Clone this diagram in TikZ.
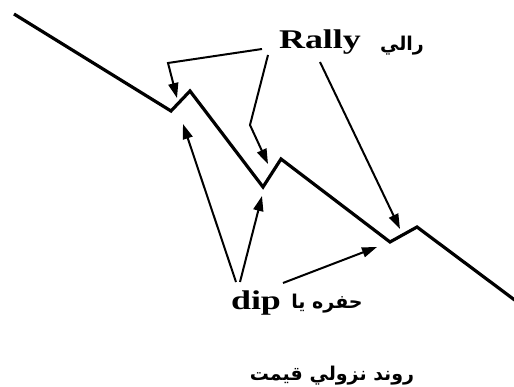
\documentclass[tikz,border=0pt]{standalone}
\usepackage{fontspec}
\setmainfont{Liberation Serif}
\newfontfamily\arabicfont[Script=Arabic]{DejaVu Sans}
\TeXXeTstate=1
\usetikzlibrary{arrows.meta}

\tikzset{
  price/.style={line width=3.2pt, line join=miter},
  pointer/.style={line width=2pt, -{Triangle[length=15pt,width=10pt]}},
  latinlbl/.style={inner sep=0pt, font=\fontsize{27}{30}\selectfont\bfseries},
  farsilbl/.style={inner sep=0pt, font=\fontsize{19}{22}\selectfont\arabicfont\bfseries}
}

\begin{document}
\begin{tikzpicture}[x=1pt, y=-1pt]
    \useasboundingbox (0,0) rectangle (514,387);

    % price line
    \coordinate (p0) at (14,14);
    \coordinate (p1) at (171,111);
    \coordinate (p2) at (190,91);
    \coordinate (p3) at (263,187);
    \coordinate (p4) at (281,159);
    \coordinate (p5) at (390,242);
    \coordinate (p6) at (417,227);
    \coordinate (p7) at (516,301);
    \draw [price] (p0) -- (p1) -- (p2) -- (p3) -- (p4) -- (p5) -- (p6) -- (p7);

    % labels
    \node [latinlbl] (rally) at (320,42) {\scalebox{1.33}[1]{Rally}};
    \node [farsilbl] (rallyfa) at (402,46) {\beginR رالي\endR};
    \node [latinlbl] (dip) at (256,303) {\scalebox{1.33}[1]{dip}};
    \node [farsilbl] (dipfa) at (327,304) {\beginR حفره يا\endR};
    \node [farsilbl] (title) at (332,376) {\beginR روند نزولي قيمت\endR};

    % rally pointers
    \coordinate (ra) at (262,49);
    \coordinate (rb) at (168,63);
    \coordinate (rc) at (268,55);
    \coordinate (rd) at (250,125);
    \coordinate (re) at (320,62);
    \draw [pointer] (ra) -- (rb) -- (177,98);
    \draw [pointer] (rc) -- (rd) -- (268,164);
    \draw [pointer] (re) -- (400,229);

    % dip pointers
    \coordinate (da) at (236,282);
    \coordinate (db) at (240,282);
    \coordinate (dc) at (283,283);
    \draw [pointer] (da) -- (183,124);
    \draw [pointer] (db) -- (262,196);
    \draw [pointer] (dc) -- (377,247);
\end{tikzpicture}
\end{document}
